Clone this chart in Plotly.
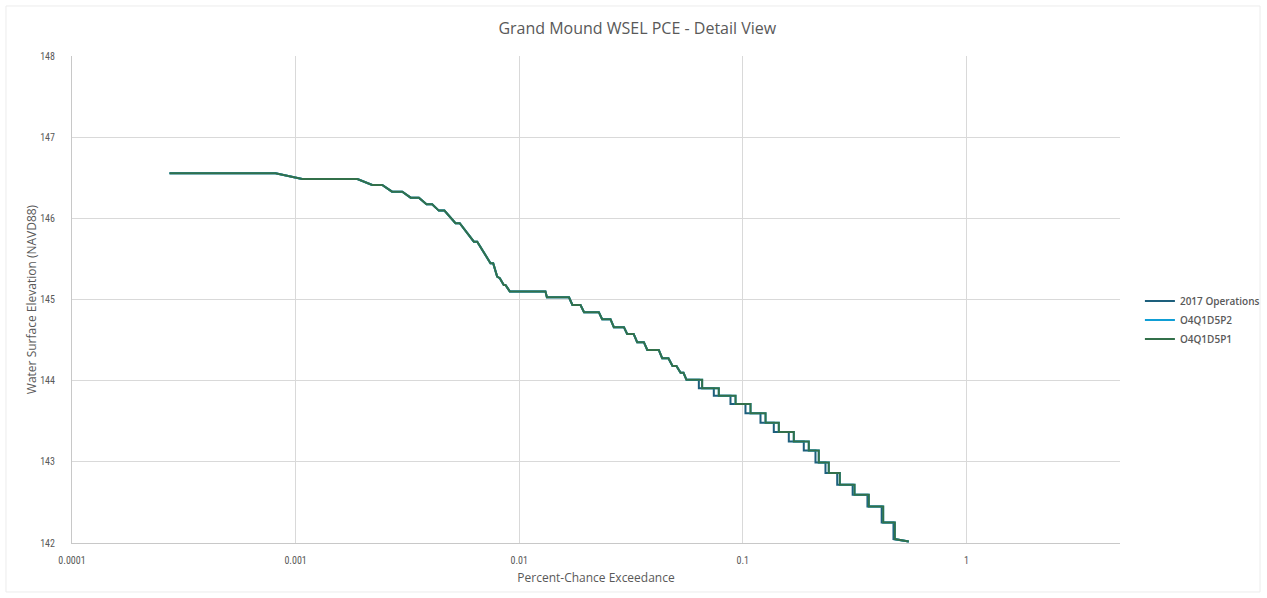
import plotly.graph_objects as go

# Percent-chance exceedance (upper part of curve, shared by all alternatives)
pce_upper = [0.000273, 0.000813, 0.00107, 0.00189, 0.00220, 0.00244, 0.00270, 0.00300,
             0.00327, 0.00356, 0.00385, 0.00408, 0.00437, 0.00463, 0.00519, 0.00542,
             0.00627, 0.00649, 0.00744, 0.00765, 0.00797, 0.00819, 0.00853, 0.00868,
             0.00908, 0.0131, 0.0133, 0.0167, 0.0173, 0.0188, 0.0195, 0.0227, 0.0235,
             0.0256, 0.0265, 0.0294, 0.0304, 0.0325, 0.0337, 0.0361, 0.0374, 0.0421,
             0.0436, 0.0465, 0.0485, 0.0505, 0.0527, 0.0543, 0.0560]
wsel_upper = [146.555, 146.555, 146.485, 146.485, 146.411, 146.411, 146.329, 146.329,
              146.255, 146.255, 146.174, 146.174, 146.095, 146.095, 145.940, 145.940,
              145.713, 145.713, 145.447, 145.447, 145.282, 145.262, 145.180, 145.180,
              145.100, 145.100, 145.028, 145.028, 144.933, 144.933, 144.844, 144.844,
              144.757, 144.757, 144.659, 144.659, 144.576, 144.576, 144.474, 144.474,
              144.379, 144.379, 144.277, 144.277, 144.182, 144.182, 144.096, 144.096,
              144.010]

# Lower stair-step part: WSEL levels and PCE where each alternative drops to next level
step_levels = [144.010, 143.908, 143.813, 143.711, 143.600, 143.480, 143.369, 143.250,
               143.139, 142.991, 142.861, 142.717, 142.594, 142.450, 142.252, 142.048]
drop_pce_p1 = [0.0658, 0.0781, 0.0928, 0.1083, 0.1264, 0.1449, 0.1691, 0.1973,
               0.2187, 0.2424, 0.2716, 0.3160, 0.3660, 0.4245, 0.4785]
drop_pce_2017 = [0.0636, 0.0742, 0.0881, 0.1028, 0.1200, 0.1376, 0.1606, 0.1874,
                 0.2114, 0.2343, 0.2644, 0.3100, 0.3610, 0.4180, 0.4720]
end_pce = 0.5526
end_wsel = 142.018

series_names = ["2017 Operations", "O4Q1D5P2", "O4Q1D5P1"]
series_colors = ["#1d5f7c", "#0F9ED5", "#33704a"]
x_tickvals = [0.0001, 0.001, 0.01, 0.1, 1]
x_ticktext = ["0.0001", "0.001", "0.01", "0.1", "1"]
y_tickvals = [142, 143, 144, 145, 146, 147, 148]


def build(drops):
    xs = list(pce_upper)
    ys = list(wsel_upper)
    for i, d in enumerate(drops):
        xs += [d, d]
        ys += [step_levels[i], step_levels[i + 1]]
    xs.append(end_pce)
    ys.append(end_wsel)
    return xs, ys


series_drops = [drop_pce_2017, drop_pce_p1, drop_pce_p1]

fig = go.Figure()
for name, color, drops in zip(series_names, series_colors, series_drops):
    xs, ys = build(drops)
    fig.add_trace(go.Scatter(x=xs, y=ys, mode="lines", name=name,
                             line=dict(color=color, width=2)))

grey = "#595959"
fig.update_layout(
    width=1267, height=598,
    margin=dict(l=72, r=147, t=56, b=55, autoexpand=False),
    paper_bgcolor="white", plot_bgcolor="white",
    font=dict(family="Open Sans, Liberation Sans, sans-serif", color=grey, size=10),
    title=dict(text="Grand Mound WSEL PCE - Detail View", x=0.503, xanchor="center",
               y=0.953, yanchor="middle",
               font=dict(size=16, color=grey, family="Open Sans, sans-serif")),
    showlegend=True,
    legend=dict(x=1.019, xanchor="left", y=0.458, yanchor="middle",
                font=dict(size=10, color=grey, family="Open Sans, sans-serif", weight=600),
                bgcolor="rgba(0,0,0,0)"),
    shapes=[dict(type="rect", xref="paper", yref="paper",
                 x0=-0.0630, x1=1.1336, y0=-0.1006, y1=1.1027,
                 line=dict(color="#ececec", width=1), fillcolor="rgba(0,0,0,0)",
                 layer="below")],
)
fig.update_xaxes(type="log", range=[-4, 0.687], tickvals=x_tickvals, ticktext=x_ticktext,
                 showgrid=True, gridcolor="#d9d9d9", gridwidth=1,
                 showline=True, linecolor="#c8c8c8", linewidth=1, zeroline=False,
                 ticks="", ticklabelstandoff=8,
                 tickfont=dict(size=10, color=grey,
                               family="Liberation Sans Narrow, Roboto Condensed, Liberation Sans, sans-serif"),
                 title=dict(text="Percent-Chance Exceedance", standoff=8,
                            font=dict(size=12, color=grey)))
fig.update_yaxes(range=[142, 148], tickvals=y_tickvals,
                 showgrid=True, gridcolor="#d9d9d9", gridwidth=1,
                 showline=True, linecolor="#c8c8c8", linewidth=1, zeroline=False,
                 ticks="", ticklabelstandoff=14,
                 tickfont=dict(size=10, color=grey,
                               family="Liberation Sans Narrow, Roboto Condensed, Liberation Sans, sans-serif"),
                 title=dict(text="Water Surface Elevation (NAVD88)", standoff=0,
                            font=dict(size=12, color=grey)))

fig.write_html("out.html")
